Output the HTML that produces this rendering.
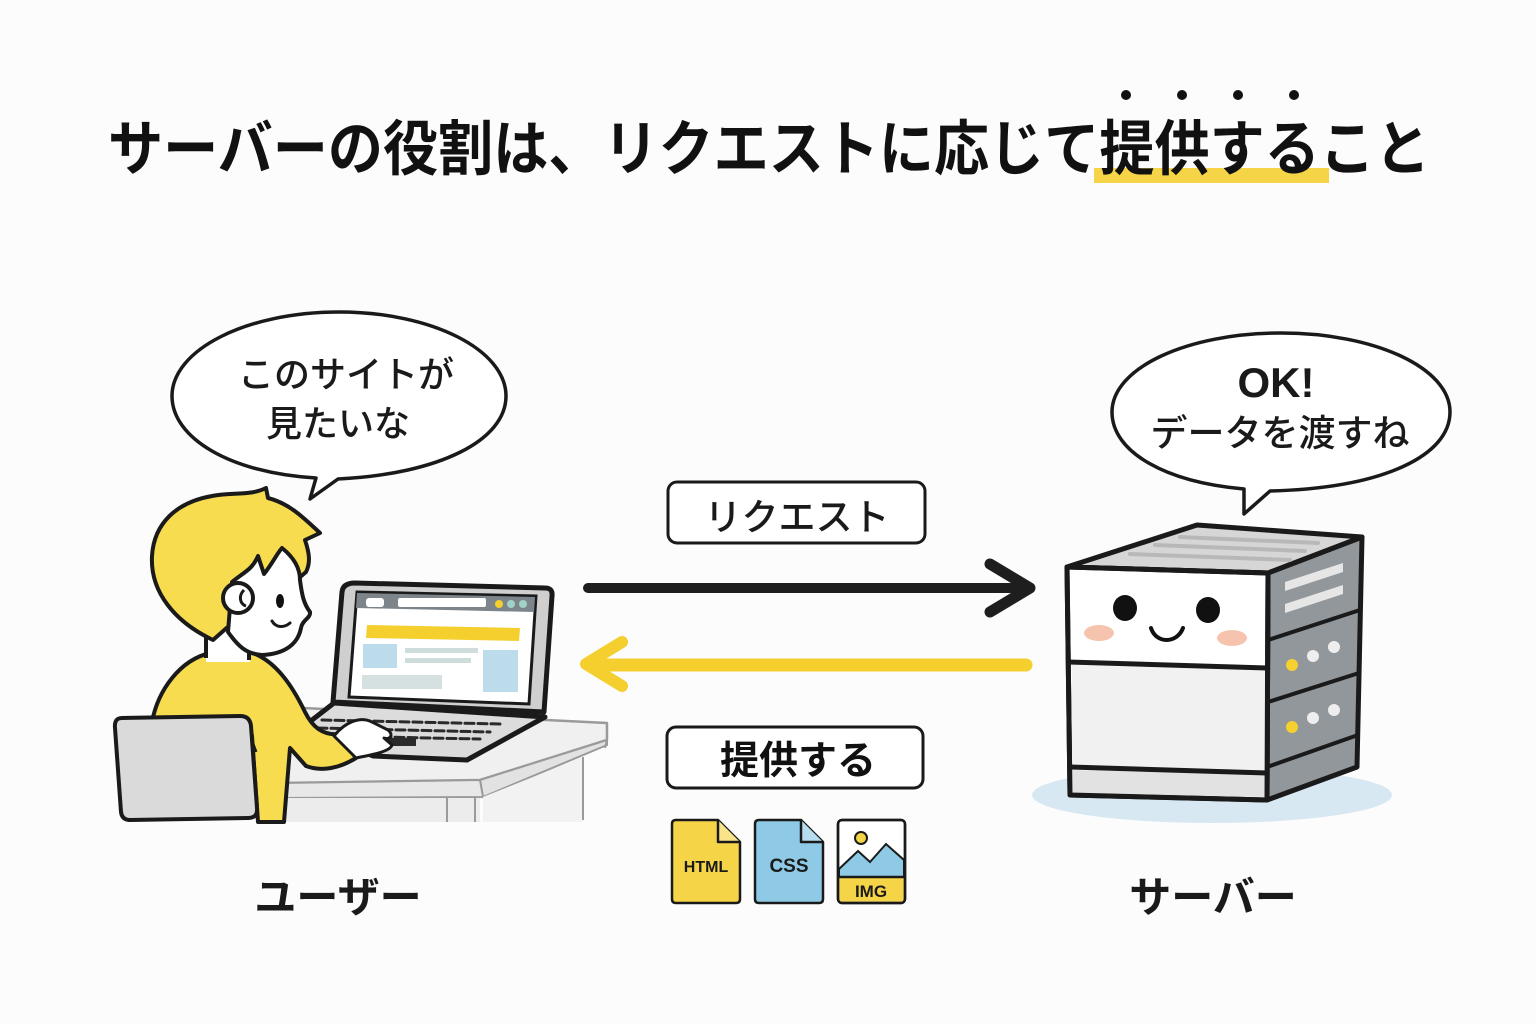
<!DOCTYPE html>
<html><head><meta charset="utf-8">
<style>
html,body{margin:0;padding:0;background:#fcfcfc;}
svg{display:block;}
text{font-family:"Liberation Sans","Noto Sans CJK JP",sans-serif;}
</style></head>
<body>
<svg width="1536" height="1024" viewBox="0 0 1536 1024" xmlns="http://www.w3.org/2000/svg">
<rect width="1536" height="1024" fill="#fcfcfc"/>

<!-- Title -->
<rect x="1094" y="168" width="235" height="15" fill="#f5d547"/>
<circle cx="1126" cy="95" r="5" fill="#111"/>
<circle cx="1182" cy="95" r="5" fill="#111"/>
<circle cx="1238" cy="95" r="5" fill="#111"/>
<circle cx="1294" cy="95" r="5" fill="#111"/>
<text x="108" y="170" font-size="60" font-weight="700" fill="#111" textLength="1322" lengthAdjust="spacingAndGlyphs">サーバーの役割は、リクエストに応じて提供すること</text>

<!-- Left bubble -->
<path d="M 339 312 C 432 312 506 350 506 396 C 506 440 440 474 338 479 L 310 499 L 316 478 C 230 473 172 438 172 396 C 172 350 246 312 339 312 Z" fill="#fff" stroke="#1a1a1a" stroke-width="3.5" stroke-linejoin="round"/>
<text x="346" y="387" font-size="36" font-weight="500" text-anchor="middle" fill="#1a1a1a">このサイトが</text>
<text x="338" y="436" font-size="36" font-weight="500" text-anchor="middle" fill="#1a1a1a">見たいな</text>

<!-- Right bubble -->
<path d="M 1281 333 C 1375 333 1450 368 1450 412 C 1450 455 1385 488 1270 491 L 1244 514 L 1244 489 C 1165 482 1112 452 1112 412 C 1112 368 1187 333 1281 333 Z" fill="#fff" stroke="#1a1a1a" stroke-width="3.5" stroke-linejoin="round"/>
<text x="1276" y="397" font-size="42" font-weight="700" text-anchor="middle" fill="#1a1a1a">OK!</text>
<text x="1280" y="446" font-size="37" font-weight="500" text-anchor="middle" fill="#1a1a1a">データを渡すね</text>

<!-- Request label -->
<rect x="668" y="482" width="257" height="61" rx="9" fill="#fff" stroke="#1a1a1a" stroke-width="3"/>
<text x="797" y="530" font-size="37" font-weight="500" text-anchor="middle" fill="#1a1a1a">リクエスト</text>

<!-- Black arrow -->
<line x1="588" y1="588" x2="1028" y2="588" stroke="#1e1e1e" stroke-width="10" stroke-linecap="round"/>
<polyline points="990,564 1030,588 990,612" fill="none" stroke="#1e1e1e" stroke-width="11" stroke-linecap="round" stroke-linejoin="round"/>

<!-- Yellow arrow -->
<line x1="1026" y1="665" x2="590" y2="665" stroke="#f4cf2e" stroke-width="13" stroke-linecap="round"/>
<polyline points="622,642 586,664 622,686" fill="none" stroke="#f4cf2e" stroke-width="12" stroke-linecap="round" stroke-linejoin="round"/>

<!-- Provide label -->
<rect x="667" y="727" width="256" height="61" rx="9" fill="#fff" stroke="#1a1a1a" stroke-width="3"/>
<text x="798" y="774" font-size="39" font-weight="700" text-anchor="middle" fill="#111">提供する</text>

<!-- File icons -->
<path d="M 676 820 L 718 820 L 740 842 L 740 899 Q 740 903 736 903 L 676 903 Q 672 903 672 899 L 672 824 Q 672 820 676 820 Z" fill="#f5d547" stroke="#1a1a1a" stroke-width="2.5" stroke-linejoin="round"/>
<path d="M 718 820 L 718 842 L 740 842" fill="#fae48a" stroke="#1a1a1a" stroke-width="2.5" stroke-linejoin="round"/>
<text x="706" y="872" font-size="16" font-weight="700" text-anchor="middle" fill="#1a1a1a">HTML</text>

<path d="M 759 820 L 801 820 L 823 842 L 823 899 Q 823 903 819 903 L 759 903 Q 755 903 755 899 L 755 824 Q 755 820 759 820 Z" fill="#8ecae6" stroke="#1a1a1a" stroke-width="2.5" stroke-linejoin="round"/>
<path d="M 801 820 L 801 842 L 823 842" fill="#b5dcef" stroke="#1a1a1a" stroke-width="2.5" stroke-linejoin="round"/>
<text x="789" y="872" font-size="19" font-weight="700" text-anchor="middle" fill="#1a1a1a">CSS</text>

<rect x="838" y="820" width="67" height="83" rx="4" fill="#fff" stroke="#1a1a1a" stroke-width="2.5"/>
<path d="M 839 869 L 858 851 L 870 862 L 886 844 L 904 860 L 904 877 L 839 877 Z" fill="#8ecae6" stroke="#1a1a1a" stroke-width="2"/>
<rect x="839.5" y="877" width="64" height="24.5" fill="#f5d547"/>
<line x1="838" y1="877" x2="905" y2="877" stroke="#1a1a1a" stroke-width="2.5"/>
<rect x="838" y="820" width="67" height="83" rx="4" fill="none" stroke="#1a1a1a" stroke-width="2.5"/>
<circle cx="861" cy="838" r="6" fill="#f5d547" stroke="#1a1a1a" stroke-width="2"/>
<text x="871" y="897" font-size="17" font-weight="700" text-anchor="middle" fill="#1a1a1a">IMG</text>

<!-- Bottom labels -->
<text x="338" y="912" font-size="42" font-weight="700" text-anchor="middle" fill="#1a1a1a">ユーザー</text>
<text x="1213" y="912" font-size="42" font-weight="700" text-anchor="middle" fill="#1a1a1a">サーバー</text>

<!-- ===== User scene ===== -->
<!-- Desk -->
<polygon points="283,707 607,723 607,740 480,780 280,783" fill="#f0f0f0" stroke="#9a9a9a" stroke-width="2.5" stroke-linejoin="round"/>
<polygon points="480,780 607,740 607,745 483,797" fill="#e2e2e2" stroke="#9a9a9a" stroke-width="2"/>
<polygon points="280,783 480,780 483,797 280,798" fill="#e8e8e8" stroke="#9a9a9a" stroke-width="2"/>
<rect x="280" y="798" width="200" height="24" fill="#ececec"/>
<polygon points="483,797 583,757 583,822 483,822" fill="#f2f2f2"/>
<line x1="447" y1="798" x2="447" y2="822" stroke="#9a9a9a" stroke-width="2"/>
<line x1="475" y1="798" x2="475" y2="822" stroke="#9a9a9a" stroke-width="2"/>
<line x1="583" y1="757" x2="583" y2="820" stroke="#9a9a9a" stroke-width="2"/>
<line x1="607" y1="740" x2="605" y2="748" stroke="#9a9a9a" stroke-width="2"/>

<!-- Laptop base -->
<polygon points="303,727 334,703 545,717 467,760 373,756" fill="#dcdcdc" stroke="#1a1a1a" stroke-width="5" stroke-linejoin="round"/>
<g stroke="#2a2a2a" stroke-width="3" stroke-linecap="round">
<line x1="322" y1="720" x2="500" y2="724" stroke-dasharray="9 4"/>
<line x1="318" y1="728" x2="490" y2="732" stroke-dasharray="9 4"/>
<line x1="330" y1="736" x2="480" y2="739" stroke-dasharray="9 4"/>
</g>
<rect x="380" y="738" width="36" height="8" fill="#2a2a2a"/>

<!-- Laptop screen -->
<path d="M 355 583 L 545 588 Q 553 588 552 596 L 544 712 L 333 702 L 342 592 Q 343 583 355 583 Z" fill="#cfcfcf" stroke="#1a1a1a" stroke-width="5" stroke-linejoin="round"/>
<polygon points="357,592 536,596 529,704 349,697" fill="#fff" stroke="#1a1a1a" stroke-width="3"/>
<polygon points="357,593 535,597 534,612 356,608" fill="#7d858b"/>
<rect x="366" y="598" width="18" height="9" rx="3" fill="#fff"/>
<rect x="398" y="598" width="88" height="9" rx="2" fill="#fff"/>
<circle cx="499" cy="604" r="4" fill="#f5cf2e"/>
<circle cx="511" cy="604" r="4" fill="#9fd3c7"/>
<circle cx="523" cy="604" r="4" fill="#9fd3c7"/>
<polygon points="367,625 520,628 519,641 366,638" fill="#f5cf2e"/>
<rect x="363" y="644" width="34" height="24" fill="#bcdcec"/>
<rect x="405" y="648" width="73" height="5" fill="#cfdcdc"/>
<rect x="405" y="658" width="66" height="5" fill="#cfdcdc"/>
<rect x="483" y="650" width="35" height="42" fill="#bcdcec"/>
<rect x="362" y="675" width="80" height="14" fill="#d5e0e0"/>

<!-- Body -->
<path d="M 152 722 C 158 690 180 660 210 653 L 250 652 C 275 660 292 685 305 712 C 312 726 322 736 340 734 L 356 758 C 340 768 322 772 306 766 L 290 748 L 284 822 L 258 822 L 252 736 L 245 718 L 150 722 Z" fill="#f7dc4f" stroke="#1a1a1a" stroke-width="4" stroke-linejoin="round"/>
<path d="M 247 728 L 256 752" stroke="#1a1a1a" stroke-width="3" fill="none"/>
<!-- Chair -->
<path d="M 122 718 L 240 716 Q 250 716 251 726 L 257 808 Q 258 818 248 818 L 130 820 Q 122 820 121 812 L 115 728 Q 114 718 122 718 Z" fill="#dadada" stroke="#1a1a1a" stroke-width="4"/>
<!-- Hand -->
<path d="M 334 736 C 345 722 360 716 372 722 L 388 730 C 394 735 390 740 384 738 L 392 745 C 390 752 370 755 356 758 Z" fill="#fff" stroke="#1a1a1a" stroke-width="3" stroke-linejoin="round"/>

<!-- Neck -->
<rect x="206" y="628" width="44" height="34" fill="#fff"/>
<line x1="206" y1="630" x2="206" y2="658" stroke="#1a1a1a" stroke-width="4"/>
<line x1="249" y1="645" x2="249" y2="660" stroke="#1a1a1a" stroke-width="4"/>

<!-- Hair -->
<path d="M 213 640 C 175 622 150 592 152 556 C 154 522 178 502 212 496 C 232 492 250 496 266 488 L 268 498 C 288 503 302 516 320 533 L 305 540 C 309 552 311 562 306 572 L 285 590 L 230 625 Z" fill="#f7dc4f" stroke="#1a1a1a" stroke-width="4" stroke-linejoin="round"/>
<!-- Face -->
<path d="M 232 582 C 244 572 252 570 258 556 L 264 574 C 272 564 278 552 282 548 C 292 556 300 566 300 580 C 302 596 304 604 310 612 C 311 618 302 620 301 628 C 298 644 285 654 262 655 C 246 654 238 646 228 632 Z" fill="#fff" stroke="#1a1a1a" stroke-width="4" stroke-linejoin="round"/>
<circle cx="238" cy="598" r="15" fill="#fff" stroke="#1a1a1a" stroke-width="4"/>
<path d="M 244 590 C 238 596 240 604 246 606" fill="none" stroke="#1a1a1a" stroke-width="3"/>
<ellipse cx="280" cy="601" rx="4" ry="7" fill="#111"/>
<path d="M 272 621 C 276 628 284 628 290 623" fill="none" stroke="#1a1a1a" stroke-width="3" stroke-linecap="round"/>

<!-- ===== Server ===== -->
<ellipse cx="1212" cy="795" rx="180" ry="28" fill="#d8e8f2"/>
<polygon points="1268,573 1362,537 1357,767 1267,800" fill="#92979b" stroke="#1a1a1a" stroke-width="5" stroke-linejoin="round"/>
<polygon points="1067,567 1197,525 1362,537 1268,573" fill="#d6d6d6" stroke="#1a1a1a" stroke-width="5" stroke-linejoin="round"/>
<g stroke="#b8b8b8" stroke-width="4" stroke-linecap="round">
<line x1="1180" y1="537" x2="1318" y2="543"/>
<line x1="1155" y1="545" x2="1305" y2="551"/>
<line x1="1130" y1="554" x2="1290" y2="560"/>
</g>
<path d="M 1067 567 L 1268 573 L 1267 800 L 1070 795 Z" fill="#fff" stroke="#1a1a1a" stroke-width="5" stroke-linejoin="round"/>
<polygon points="1072,665 1265,670 1265,771 1072,767" fill="#f1f1f1"/>
<polygon points="1072,770 1265,774 1265,797 1072,793" fill="#e2e2e2"/>
<line x1="1068" y1="662" x2="1267" y2="668" stroke="#1a1a1a" stroke-width="5"/>
<line x1="1070" y1="767" x2="1267" y2="773" stroke="#1a1a1a" stroke-width="5"/>
<path d="M 1067 567 L 1268 573 L 1267 800 L 1070 795 Z" fill="none" stroke="#1a1a1a" stroke-width="5" stroke-linejoin="round"/>
<line x1="1268" y1="640" x2="1360" y2="610" stroke="#1a1a1a" stroke-width="4"/>
<line x1="1268" y1="702" x2="1359" y2="673" stroke="#1a1a1a" stroke-width="4"/>
<line x1="1267" y1="767" x2="1358" y2="735" stroke="#1a1a1a" stroke-width="4"/>
<polygon points="1285,582 1343,563 1343,572 1285,591" fill="#e6e6e6"/>
<polygon points="1285,604 1343,585 1343,594 1285,613" fill="#e6e6e6"/>
<circle cx="1292" cy="665" r="6" fill="#f5d02e"/>
<circle cx="1313" cy="656" r="6" fill="#eeeeee"/>
<circle cx="1334" cy="647" r="6" fill="#eeeeee"/>
<circle cx="1292" cy="727" r="6" fill="#f5d02e"/>
<circle cx="1313" cy="718" r="6" fill="#eeeeee"/>
<circle cx="1334" cy="710" r="6" fill="#eeeeee"/>
<ellipse cx="1125" cy="608" rx="12" ry="13" fill="#111"/>
<ellipse cx="1208" cy="610" rx="12" ry="13" fill="#111"/>
<ellipse cx="1099" cy="633" rx="15" ry="8" fill="#f6c4ae"/>
<ellipse cx="1232" cy="638" rx="15" ry="8" fill="#f6c4ae"/>
<path d="M 1151 628 C 1156 644 1177 644 1183 628" fill="none" stroke="#111" stroke-width="4" stroke-linecap="round"/>
</svg>
</body></html>
